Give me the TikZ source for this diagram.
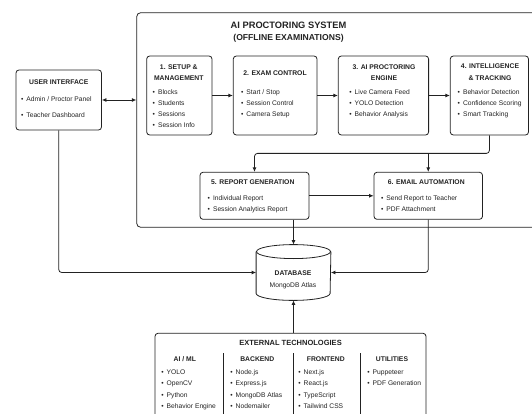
\documentclass[tikz,border=0pt]{standalone}
\usepackage{fontspec}
\setmainfont{Liberation Sans}
\usetikzlibrary{arrows.meta, positioning, calc, shapes.geometric}
\definecolor{ink}{HTML}{222222}
\newcommand{\itm}{\textbullet\hspace{3pt}}

\begin{document}
\begin{tikzpicture}[
  x=1pt, y=-1pt, color=ink,
  > = {Latex[length=4.5pt,width=4pt]},
  line width=0.8pt,
  box/.style = {draw, rounded corners=3pt, inner sep=0pt},
  head/.style = {font=\bfseries\fontsize{6.8}{11.5}\selectfont, align=center, inner sep=0pt},
  items/.style = {font=\fontsize{6.7}{10.8}\selectfont, align=left, anchor=north west, inner sep=0pt}
  ]
  \useasboundingbox (0,0) rectangle (532,414);
  \clip (0,0) rectangle (532,414);
  \node[box, minimum width=85.5, minimum height=60] (ui) at (58.75,100) {};
  \node[box, rounded corners=4pt, minimum width=403.3, minimum height=214.6] (sys) at (338.35,120) {};
  \node[align=center, inner sep=0pt] (title) at (288.5,32) {\bfseries\fontsize{9.3}{14.5}\selectfont AI PROCTORING SYSTEM\\\bfseries\fontsize{8.6}{14.5}\selectfont (OFFLINE EXAMINATIONS)};
  \node[box, minimum width=65.3, minimum height=79] (setup) at (179.35,95.5) {};
  \node[box, minimum width=83.7, minimum height=79] (exam) at (275.15,95.5) {};
  \node[box, minimum width=90.3, minimum height=79] (engine) at (383.45,95.5) {};
  \node[box, minimum width=78.2, minimum height=79] (intel) at (489.4,95.5) {};
  \node[box, minimum width=109, minimum height=47] (report) at (254.5,195.8) {};
  \node[box, minimum width=108.5, minimum height=47] (email) at (428.25,195.8) {};
  \node[minimum width=74, minimum height=55, inner sep=0pt] (db) at (293.5,272.5) {};
  \draw ($(db.north)+(0,7)$) ellipse [x radius=37, y radius=7];
  \draw ($(db.north west)+(0,7)$) -- ($(db.south west)+(0,-7)$) arc [start angle=180, end angle=0, x radius=37, y radius=7] -- ($(db.north east)+(0,7)$);
  \node[box, minimum width=271, minimum height=87] (ext) at (290.5,376.8) {};

  \node[head] (ui-h) at (58.75,82.3) {USER INTERFACE};
  \node[head] (setup-h) at (178.8,72.5) {1. SETUP \&\\MANAGEMENT};
  \node[head] (exam-h) at (275,72.7) {2. EXAM CONTROL};
  \node[head] (engine-h) at (384,72.5) {3. AI PROCTORING\\ENGINE};
  \node[head] (intel-h) at (490,72.3) {4. INTELLIGENCE\\\& TRACKING};
  \node[head] (report-h) at (252.8,182.3) {5. REPORT GENERATION};
  \node[head] (email-h) at (426.3,182.3) {6. EMAIL AUTOMATION};
  \node[align=center, inner sep=0pt] (db-t) at (293,279.7) {\bfseries\fontsize{6.8}{14}\selectfont DATABASE\\\fontsize{6.7}{14}\selectfont MongoDB Atlas};
  \node[head, font=\bfseries\fontsize{7.5}{11}\selectfont] (ext-h) at (290.5,343) {EXTERNAL TECHNOLOGIES};

  \node[items] (ui-l) at (20.7,96.4) {\itm Admin / Proctor Panel\\[5.2pt]\itm Teacher Dashboard};
  \node[items] (setup-l) at (152.3,89.7) {\itm Blocks\\\itm Students\\\itm Sessions\\\itm Session Info};
  \node[items] (exam-l) at (240.7,89.7) {\itm Start / Stop\\\itm Session Control\\\itm Camera Setup};
  \node[items] (engine-l) at (349,89.7) {\itm Live Camera Feed\\\itm YOLO Detection\\\itm Behavior Analysis};
  \node[items] (intel-l) at (457.3,89.7) {\itm Behavior Detection\\\itm Confidence Scoring\\\itm Smart Tracking};
  \node[items] (report-l) at (207.3,195.1) {\itm Individual Report\\\itm Session Analytics Report};
  \node[items] (email-l) at (380.7,195.1) {\itm Send Report to Teacher\\\itm PDF Attachment};

  \node[head] (ai-h) at (184.8,359) {AI / ML};
  \node[head] (back-h) at (257.3,359) {BACKEND};
  \node[head] (front-h) at (325.8,359) {FRONTEND};
  \node[head] (util-h) at (392,359) {UTILITIES};
  \node[items, font=\fontsize{6.7}{11.3}\selectfont] (ai-l) at (161,369.4) {\itm YOLO\\\itm OpenCV\\\itm Python\\\itm Behavior Engine};
  \node[items, font=\fontsize{6.7}{11.3}\selectfont] (back-l) at (230,369.4) {\itm Node.js\\\itm Express.js\\\itm MongoDB Atlas\\\itm Nodemailer};
  \node[items, font=\fontsize{6.7}{11.3}\selectfont] (front-l) at (298,369.4) {\itm Next.js\\\itm React.js\\\itm TypeScript\\\itm Tailwind CSS};
  \node[items, font=\fontsize{6.7}{11.3}\selectfont] (util-l) at (367,369.4) {\itm Puppeteer\\\itm PDF Generation};
  \foreach \x in {223.3,293.3,360} \draw (\x,353) -- (\x,425);

  \draw[<->] (ui.east) -- (ui.east -| sys.west);
  \draw[->] (setup.east) -- (exam.west);
  \draw[->] (exam.east) -- (engine.west);
  \draw[->] (engine.east) -- (intel.west);
  \coordinate (split) at ($(intel.south)+(0,18)$);
  \draw[->, rounded corners=3pt] (intel.south) -- (split) -| (report.north);
  \draw[->] (split -| email.north) -- (email.north);
  \draw[->] (report.east) -- (email.west);
  \draw[->] (db.north |- report.south) -- (db.north);
  \draw[->, rounded corners=3pt] (ui.south) |- (db.west);
  \draw[->, rounded corners=3pt] (email.south) |- (db.east);
  \draw[->] (db.south |- ext.north) -- (db.south);
\end{tikzpicture}
\end{document}
